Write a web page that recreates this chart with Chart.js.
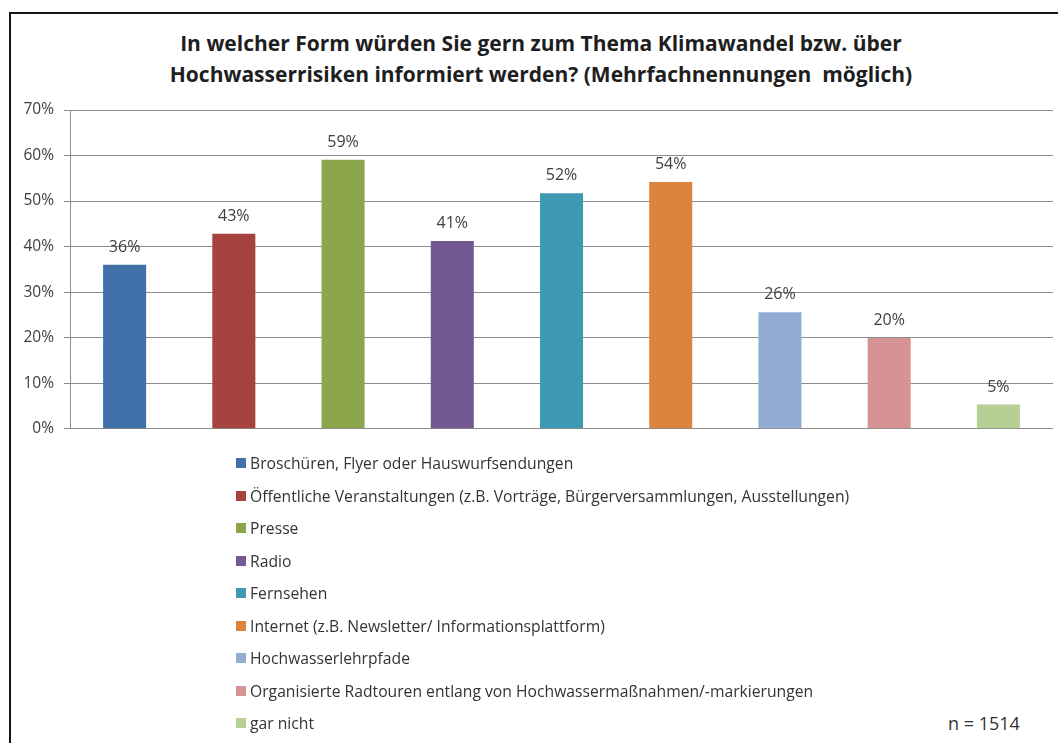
<!DOCTYPE html>
<html>
<head>
<meta charset="utf-8">
<script src="https://cdn.jsdelivr.net/npm/chart.js@4.4.1/dist/chart.umd.min.js"></script>
<style>
  html, body { margin:0; padding:0; background:#fff; width:1058px; height:743px; overflow:hidden; font-family:"Open Sans", sans-serif; }
  #frame { position:absolute; left:9px; top:12px; width:1100px; height:800px; border:2px solid #151515; box-sizing:border-box; }
  #title { position:absolute; left:0; width:1082px; top:28px; text-align:center; font-weight:bold; font-size:21px; line-height:31px; color:#1e1e1e; }
  #chart { position:absolute; left:0; top:0; }
  #legend { position:absolute; left:236px; top:447px; }
  .item { display:flex; align-items:center; height:32.5px; font-size:15.7px; color:#333; white-space:nowrap; }
  .sw { width:10px; height:10px; margin-right:4px; flex:none; }
  #n { position:absolute; left:948px; top:711px; font-size:18px; color:#333; }
</style>
</head>
<body>
<div id="frame"></div>
<div id="title">In welcher Form würden Sie gern zum Thema Klimawandel bzw. über<br>Hochwasserrisiken informiert werden? (Mehrfachnennungen&nbsp; möglich)</div>
<canvas id="chart" width="1058" height="448"></canvas>
<div id="legend"></div>
<div id="n">n = 1514</div>
<script>
/* Informationswünsche Klimawandel / Hochwasser — Balkendiagramm */

const categories = [
  'Broschüren, Flyer oder Hauswurfsendungen',
  'Öffentliche Veranstaltungen (z.B. Vorträge, Bürgerversammlungen, Ausstellungen)',
  'Presse',
  'Radio',
  'Fernsehen',
  'Internet (z.B. Newsletter/ Informationsplattform)',
  'Hochwasserlehrpfade',
  'Organisierte Radtouren entlang von Hochwassermaßnahmen/-markierungen',
  'gar nicht'
];
const values = [36.0, 42.8, 59.1, 41.2, 51.7, 54.2, 25.6, 19.9, 5.3];
const colors = ['#4170A8', '#A6433F', '#8BA64B', '#735891', '#3E9AB2', '#DC843D', '#93ACD3', '#D59493', '#B6CF92'];
const yTicks = [0, 10, 20, 30, 40, 50, 60, 70];

Chart.defaults.font.family = "'Open Sans', sans-serif";

// value labels above the bars
const barLabels = {
  id: 'barLabels',
  afterDatasetsDraw(chart) {
    const { ctx } = chart;
    const meta = chart.getDatasetMeta(0);
    ctx.save();
    ctx.font = "16px 'Open Sans'";
    ctx.fillStyle = '#404040';
    ctx.textAlign = 'center';
    ctx.textBaseline = 'middle';
    meta.data.forEach((bar, i) => {
      ctx.fillText(Math.round(values[i]) + '%', bar.x, bar.y - 17.5);
    });
    ctx.restore();
  }
};

new Chart(document.getElementById('chart'), {
  type: 'bar',
  data: {
    labels: categories,
    datasets: [{
      data: values,
      backgroundColor: colors,
      borderWidth: 0,
      barPercentage: 0.394,
      categoryPercentage: 1
    }]
  },
  options: {
    responsive: false,
    animation: false,
    layout: { padding: { top: 110, bottom: 4, left: 12, right: 5 } },
    plugins: { legend: { display: false }, title: { display: false }, tooltip: { enabled: false } },
    scales: {
      x: {
        ticks: { display: false },
        grid: { display: false },
        border: { display: false },
        afterFit: s => { s.height = 0; }
      },
      y: {
        min: 0, max: 70,
        afterBuildTicks: s => { s.ticks = yTicks.map(v => ({ value: v })); },
        ticks: {
          callback: v => v + '%',
          color: '#404040',
          font: { size: 15.5 },
          padding: 10
        },
        grid: { color: '#8c8c8c', tickLength: 6, lineWidth: 1 },
        border: { display: true, color: '#8c8c8c' },
        afterFit: s => { s.width = 58; }
      }
    }
  },
  plugins: [barLabels]
});

// legend, one entry per line
document.getElementById('legend').innerHTML = categories.map((c, i) =>
  `<div class="item"><span class="sw" style="background:${colors[i]}"></span>${c}</div>`).join('');
</script>
</body>
</html>
